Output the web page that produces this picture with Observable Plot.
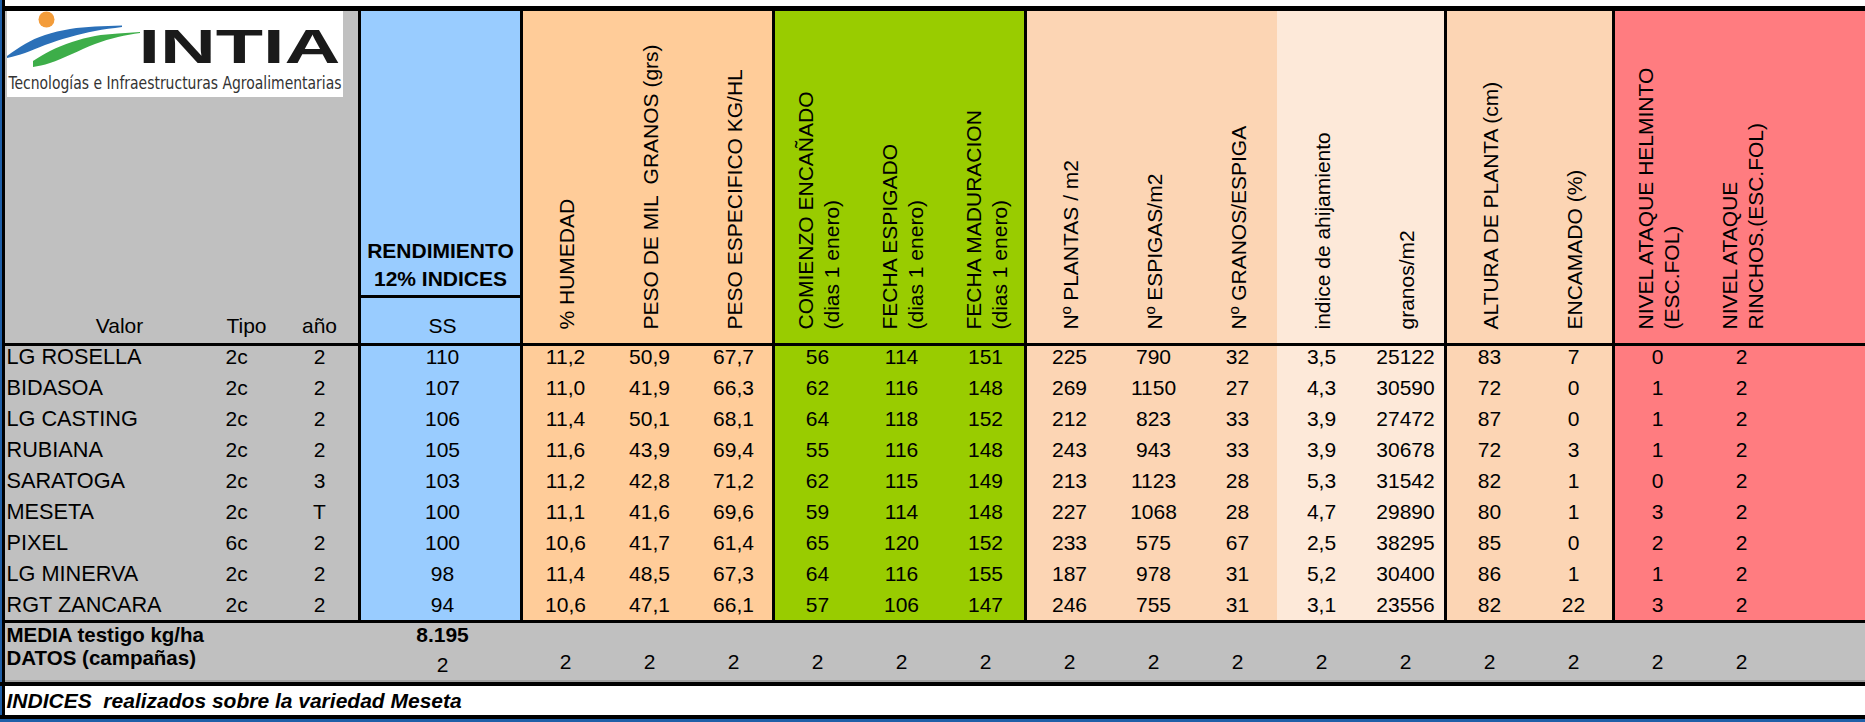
<!DOCTYPE html>
<html><head><meta charset="utf-8">
<script src="https://cdn.jsdelivr.net/npm/d3@7"></script>
<script src="https://cdn.jsdelivr.net/npm/@observablehq/plot@0.6"></script>
<style>html,body{margin:0;padding:0;overflow:hidden;background:#fff}</style>
</head><body><div id="chart"></div>
<script>
// ---------- DATA ----------
const varieties = ["LG ROSELLA","BIDASOA","LG CASTING","RUBIANA","SARATOGA","MESETA","PIXEL","LG MINERVA","RGT ZANCARA"];
const tipo = ["2c","2c","2c","2c","2c","2c","6c","2c","2c"];
const anio = ["2","2","2","2","3","T","2","2","2"];
const rendimiento = [110,107,106,105,103,100,100,98,94];
const humedad = [11.2,11.0,11.4,11.6,11.2,11.1,10.6,11.4,10.6];
const pesoMil = [50.9,41.9,50.1,43.9,42.8,41.6,41.7,48.5,47.1];
const pesoEsp = [67.7,66.3,68.1,69.4,71.2,69.6,61.4,67.3,66.1];
const encanado = [56,62,64,55,62,59,65,64,57];
const espigado = [114,116,118,116,115,114,120,116,106];
const maduracion = [151,148,152,148,149,148,152,155,147];
const plantas = [225,269,212,243,213,227,233,187,246];
const espigas = [790,1150,823,943,1123,1068,575,978,755];
const granosEspiga = [32,27,33,33,28,28,67,31,31];
const ahijamiento = [3.5,4.3,3.9,3.9,5.3,4.7,2.5,5.2,3.1];
const granosM2 = [25122,30590,27472,30678,31542,29890,38295,30400,23556];
const altura = [83,72,87,72,82,80,85,86,82];
const encamado = [7,0,0,3,1,1,0,1,22];
const helminto = [0,1,1,1,0,3,2,1,3];
const rinchos = [2,2,2,2,2,2,2,2,2];
const mediaTestigo = 8195;
const datosSS = 2;
const datosCampanas = [2,2,2,2,2,2,2,2,2,2,2,2,2,2,2];

const columnHeaders = ["% HUMEDAD","PESO DE MIL  GRANOS (grs)","PESO ESPECIFICO KG/HL",
  "COMIENZO ENCAÑADO\n(dias 1 enero)","FECHA ESPIGADO\n(dias 1 enero)","FECHA MADURACION\n(dias 1 enero)",
  "Nº PLANTAS / m2","Nº ESPIGAS/m2","Nº GRANOS/ESPIGA","indice de ahijamiento","granos/m2",
  "ALTURA DE PLANTA (cm)","ENCAMADO (%)","NIVEL ATAQUE HELMINTO\n(ESC.FOL)","NIVEL ATAQUE\nRINCHOS.(ESC.FOL)"];
const columnSeries = [humedad,pesoMil,pesoEsp,encanado,espigado,maduracion,plantas,espigas,granosEspiga,ahijamiento,granosM2,altura,encamado,helminto,rinchos];
const columnDecimals = [1,1,1,0,0,0,0,0,0,1,0,0,0,0,0];
const labelHeaders = ["Valor","Tipo","año"];

// section colours and how many columns each spans
const sectionColors = ["#FFCC99","#99CC00","#FCD5B4","#FDE9D9","#FCD5B4","#FF7C80"];
const sectionSpans = [3,3,3,2,2,3];
const sectionRule = [true,true,true,false,true,true];

// ---------- LAYOUT ----------
const W = 1865, H = 722;
const F = "'Liberation Sans', Arial, sans-serif";
const FS = 21;
const edgeLeft = 5, labelRight = 359, ssRight = 521, colW = 84;
const headTop = 11, headLine = 344, dataTop = 343, rowH = 31;
const dataBottom = 621;
const sumBottom = 682, footTop = 686, footBottom = 715;
const gray = "#C0C0C0", blue = "#99CCFF";

const colX = i => ssRight + colW * i + colW / 2 + 2;
const rowY = r => dataTop + rowH * r + 14;
const fmt = (v, d) => d ? v.toFixed(d).replace(".", ",") : String(v);

// background bands
const bands = [{x1: edgeLeft, x2: labelRight, fill: gray}, {x1: labelRight, x2: ssRight, fill: blue}];
const vlines = [labelRight, ssRight];
let c = 0;
sectionSpans.forEach((s, k) => {
  const x1 = ssRight + colW * c, x2 = Math.min(W, ssRight + colW * (c + s));
  bands.push({x1, x2, fill: sectionColors[k]});
  if (k > 0 && sectionRule[k]) vlines.push(x1);
  c += s;
});

// cells
const cells = [];
columnSeries.forEach((ser, i) => ser.forEach((v, r) => cells.push({x: colX(i), y: rowY(r), t: fmt(v, columnDecimals[i])})));
const headers = columnHeaders.map((t, i) => ({x: colX(i), t}));
const datosCells = datosCampanas.map((v, i) => ({x: colX(i), t: String(v)}));
const rows = varieties.map((v, r) => ({name: v, tipo: tipo[r], anio: anio[r], ss: rendimiento[r], y: rowY(r)}));

// logo shapes (logo-local decorative outline)
const logoBlue = [{x:7,top:56,bot:58},{x:25,top:44,bot:53},{x:45,top:35,bot:45},{x:70,top:29,bot:37},{x:95,top:26.5,bot:31},{x:122,top:25.5,bot:27}];
const logoGreen = [{x:33,top:61,bot:67},{x:50,top:51,bot:63},{x:72,top:42,bot:54},{x:95,top:36,bot:44},{x:118,top:33.5,bot:37},{x:140,top:32,bot:33}];

const txt = (data, o) => Plot.text(data, {fontFamily: F, fontSize: FS, fill: "#000", lineAnchor: "middle", ...o});
const band = (x1, x2, y1, y2, fill) => Plot.rect([{x1, x2, y1, y2}], {x1: "x1", x2: "x2", y1: "y1", y2: "y2", fill});

const chart = Plot.plot({
  width: W, height: H, margin: 0,
  x: {domain: [0, W], range: [0, W], axis: null},
  y: {domain: [0, H], range: [0, H], axis: null},
  color: {type: "identity"},
  style: {background: "#fff", fontFamily: F},
  marks: [
    Plot.rect(bands, {x1: "x1", x2: "x2", y1: headTop, y2: dataBottom, fill: "fill"}),
    band(edgeLeft, W, dataBottom, sumBottom, gray),
    // borders
    band(0, W, 6, headTop, "#000"),
    band(0, edgeLeft, 0, H, "#000"),
    band(0, 2, 0, H, "#1F5FA8"),
    Plot.ruleY([sumBottom - 1.5], {x1: edgeLeft, x2: W, stroke: "#808080", strokeWidth: 1}),
    band(0, W, sumBottom, footTop, "#000"),
    band(0, W, footBottom, footBottom + 4, "#000"),
    band(0, W, footBottom + 4, H, "#1F5FA8"),
    Plot.ruleX(vlines, {y1: headTop, y2: dataBottom, stroke: "#000", strokeWidth: 3}),
    Plot.ruleY([headLine], {x1: edgeLeft, x2: W, stroke: "#000", strokeWidth: 3}),
    Plot.ruleY([dataBottom], {x1: edgeLeft, x2: W, stroke: "#000", strokeWidth: 3}),
    Plot.ruleY([296], {x1: labelRight, x2: ssRight, stroke: "#000", strokeWidth: 3}),
    // logo
    band(7, 343, headTop, 97, "#fff"),
    Plot.area(logoBlue, {x1: "x", y1: "top", y2: "bot", fill: "#2B70B8", curve: "natural"}),
    Plot.area(logoGreen, {x1: "x", y1: "top", y2: "bot", fill: "#3DAE49", curve: "natural"}),
    Plot.dot([{x: 46, y: 19}], {x: "x", y: "y", r: 8, fill: "#F39C3A"}),
    Plot.text([{x: 138, y: 62, t: "INTIA"}], {x: "x", y: "y", text: "t", textAnchor: "start", lineAnchor: "bottom", fontSize: 49, fontWeight: "bold", fontFamily: F, fill: "#1a1a1a"}),
    Plot.text([{x: 8, y: 88, t: "Tecnologías e Infraestructuras Agroalimentarias"}], {x: "x", y: "y", text: "t", textAnchor: "start", lineAnchor: "bottom", fontSize: 17, fontFamily: "'DejaVu Sans Condensed', 'DejaVu Sans', sans-serif", fill: "#333"}),
    // header texts
    txt(headers, {x: "x", y: 329, text: "t", rotate: -90, textAnchor: "start", lineHeight: 1.25}),
    txt([{x: 440, y: 251, t: "RENDIMIENTO"}, {x: 440, y: 279, t: "12% INDICES"}], {x: "x", y: "y", text: "t", fontWeight: "bold"}),
    txt([{x: 442, y: 326, t: "SS"}, {x: 119, y: 326, t: labelHeaders[0]}, {x: 246, y: 326, t: labelHeaders[1]}, {x: 319, y: 326, t: labelHeaders[2]}], {x: "x", y: "y", text: "t"}),
    // rows
    txt(rows, {x: 6, y: "y", text: "name", textAnchor: "start", fontSize: 21.7}),
    txt(rows, {x: 225, y: "y", text: "tipo", textAnchor: "start"}),
    txt(rows, {x: 319, y: "y", text: "anio"}),
    txt(rows, {x: 442, y: "y", text: d => String(d.ss)}),
    txt(cells, {x: "x", y: "y", text: "t"}),
    // summary
    txt([{y: 635, t: "MEDIA testigo kg/ha"}, {y: 658, t: "DATOS (campañas)"}], {x: 6, y: "y", text: "t", textAnchor: "start", fontWeight: "bold", fontSize: 20.5}),
    txt([{t: d3.format(",")(mediaTestigo).replace(/,/g, ".")}], {x: 442, y: 635, text: "t", fontWeight: "bold"}),
    txt([{t: String(datosSS)}], {x: 442, y: 665, text: "t"}),
    txt(datosCells, {x: "x", y: 662, text: "t"}),
    txt([{t: "INDICES\u00A0 realizados sobre la variedad Meseta"}], {x: 6, y: 701, text: "t", textAnchor: "start", fontWeight: "bold", fontStyle: "italic"})
  ]
});

d3.select(chart).selectAll("text").each(function() {
  const s = this.textContent;
  if (s === "INTIA") d3.select(this).attr("textLength", 202).attr("lengthAdjust", "spacingAndGlyphs");
  if (s.startsWith("Tecnolog")) d3.select(this).attr("textLength", 333).attr("lengthAdjust", "spacingAndGlyphs");
});
document.getElementById("chart").appendChild(chart);
</script></body></html>
